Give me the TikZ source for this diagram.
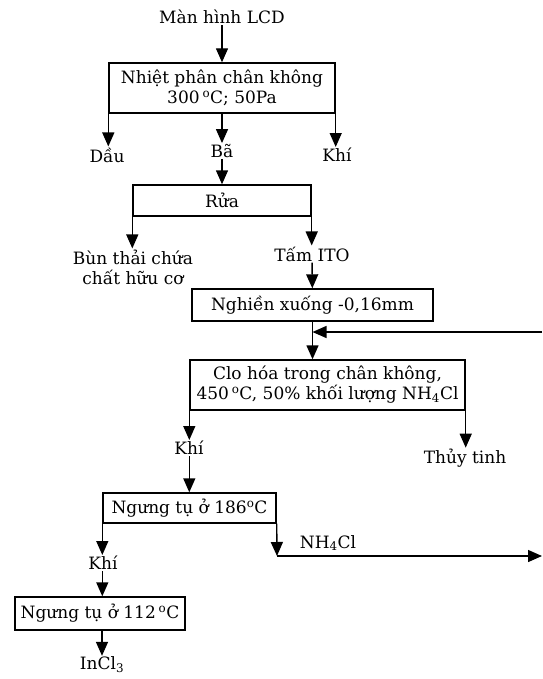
\documentclass[tikz,border=0pt]{standalone}
\usepackage{fontspec}
\setmainfont{DejaVu Serif}
\usepackage{tikz}
\usetikzlibrary{arrows.meta}

\begin{document}
\begin{tikzpicture}[x=1pt,y=-1pt,
  every node/.style={font=\fontsize{17}{20}\selectfont},
  proc/.style={draw, line width=1.4pt, inner sep=0pt, align=center},
  lbl/.style={inner sep=1pt, align=center},
  flow/.style={line width=1.4pt, -{Triangle[width=12pt,length=14pt]}}]
\useasboundingbox (0,0) rectangle (542,679);
% boxes
\node[proc, minimum width=226pt, minimum height=50pt] (nhiet) at (222,88)
  {Nhiệt phân chân không\\300\,\textsuperscript{o}C; 50Pa};
\node[proc, minimum width=178pt, minimum height=31pt] (rua) at (222,200.5) {Rửa};
\node[proc, minimum width=241pt, minimum height=32pt] (nghien) at (312.5,305)
  {Nghiền xuống -0,16mm};
\node[proc, minimum width=275pt, minimum height=50pt] (clo) at (327.5,385)
  {Clo hóa trong chân không,\\450\,\textsuperscript{o}C, 50\% khối lượng NH\textsubscript{4}Cl};
\node[proc, minimum width=173pt, minimum height=30pt] (ngung1) at (189.5,508)
  {Ngưng tụ ở 186\textsuperscript{o}C};
\node[proc, minimum width=170pt, minimum height=33pt] (ngung2) at (100,613.5)
  {Ngưng tụ ở 112\,\textsuperscript{o}C};
% labels
\node[lbl] (lcd) at (222,17) {Màn hình LCD};
\node[lbl] (dau) at (107,155) {Dầu};
\node[lbl] (ba) at (222,151) {Bã};
\node[lbl] (khi1) at (337,155) {Khí};
\node[lbl] (bun) at (133,267) {Bùn thải chứa\\chất hữu cơ};
\node[lbl] (ito) at (312,254) {Tấm ITO};
\node[lbl] (khi2) at (189,448) {Khí};
\node[lbl] (thuy) at (465,458) {Thủy tinh};
\node[lbl] (khi3) at (103,563) {Khí};
\node[lbl] (nh4) at (328,543) {NH\textsubscript{4}Cl};
\node[lbl] (incl) at (102,665) {InCl\textsubscript{3}};
\coordinate (ret) at (542,332);
\coordinate (turn) at (277,556);
\coordinate (out) at (542,556);
% connectors
\draw[flow] (lcd) -- (nhiet);
\draw[flow] (nhiet.south west) -- (nhiet.south west |- dau.north);
\draw[flow] (nhiet.south) -- (ba.north);
\draw[flow] (nhiet.south east) -- (nhiet.south east |- khi1.north);
\draw[flow] (ba) -- (rua);
\draw[flow] (rua.south west) -- (rua.south west |- bun.north);
\draw[flow] (rua.south east) -- (rua.south east |- ito.north);
\draw[flow] (ito) -- (nghien);
\draw[flow] (nghien.south) -- (nghien.south |- clo.north);
\draw[flow] (ret) -- (ret -| nghien.south);
\draw[flow] (clo.south west) -- (clo.south west |- khi2.north);
\draw[flow] (clo.south east) -- (clo.south east |- thuy.north);
\draw[flow] (khi2.south -| clo.south west) -- (clo.south west |- ngung1.north);
\draw[flow] (ngung1.south west) -- (ngung1.south west |- khi3.north);
\draw[flow] (khi3.south -| ngung1.south west) -- (ngung1.south west |- ngung2.north);
\draw[flow] (ngung2.south -| incl.north) -- (incl.north);
\draw[flow] (ngung1.south east) -- (turn);
\draw[flow] (turn) -- (out);
\end{tikzpicture}
\end{document}
